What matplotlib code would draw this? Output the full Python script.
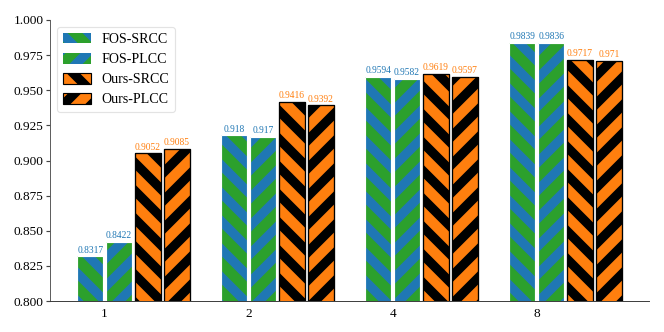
import matplotlib
matplotlib.use("Agg")
import matplotlib.pyplot as plt
import numpy as np

# data
groups = ["1", "2", "4", "8"]
fos_srcc = [0.8317, 0.918, 0.9594, 0.9839]
fos_plcc = [0.8422, 0.917, 0.9582, 0.9836]
ours_srcc = [0.9052, 0.9416, 0.9619, 0.9717]
ours_plcc = [0.9085, 0.9392, 0.9597, 0.971]
series_names = ["FOS-SRCC", "FOS-PLCC", "Ours-SRCC", "Ours-PLCC"]

DPI = 84
plt.rcParams['font.family'] = ['Liberation Serif', 'DejaVu Serif']
plt.rcParams['hatch.linewidth'] = 8.0

fig = plt.figure(figsize=(664 / DPI, 332 / DPI), dpi=DPI)
ax = fig.add_axes([50 / 664, 31 / 332, 599 / 664, 281 / 332])

x = np.arange(len(groups))
w = 0.2
bw = 0.18
green = '#2ca02c'
blue = '#1f77b4'
orange = '#ff7f0e'

series = [fos_srcc, fos_plcc, ours_srcc, ours_plcc]
faces = [green, green, orange, orange]
hatch_cols = [blue, blue, 'black', 'black']
hatches = ['\\', '/', '\\', '/']
outline = ['white', 'white', 'black', 'black']
label_cols = [blue, blue, orange, orange]
offsets = [-0.5, 0.5, 1.5, 2.5]

handles = []
for i, vals in enumerate(series):
    pos = x + offsets[i] * w
    b = ax.bar(pos, vals, bw, color=faces[i], edgecolor=hatch_cols[i],
               hatch=hatches[i], linewidth=0 if i < 2 else 1.0,
               label=series_names[i], zorder=2)
    ax.bar(pos, vals, bw, facecolor='none', edgecolor=outline[i],
           linewidth=1.0, zorder=3)
    handles.append(b)
    for px, v in zip(pos, vals):
        ax.text(px, v + 0.0012, f"{v:g}", ha='center', va='bottom',
                color=label_cols[i], fontsize=8.2, zorder=4)

ax.set_ylim(0.8, 1.0)
ax.set_yticks(np.arange(0.8, 1.0001, 0.025))
ax.set_yticklabels([f"{t:.3f}" for t in np.arange(0.8, 1.0001, 0.025)])
ax.set_xticks(x)
ax.set_xticklabels(groups)
ax.tick_params(axis='y', labelsize=11.5, length=3.5, width=1, color='#444444', pad=2)
ax.tick_params(axis='x', labelsize=11.5, length=0, pad=6)

for s in ['top', 'right']:
    ax.spines[s].set_visible(False)
ax.spines['left'].set_color('#555555')
ax.spines['bottom'].set_color('#333333')

leg = ax.legend(handles=handles, loc='upper left', fontsize=12,
                frameon=True, fancybox=True, edgecolor='#dddddd',
                handlelength=2.0, handleheight=0.8)

fig.savefig("out.png", dpi=DPI)
